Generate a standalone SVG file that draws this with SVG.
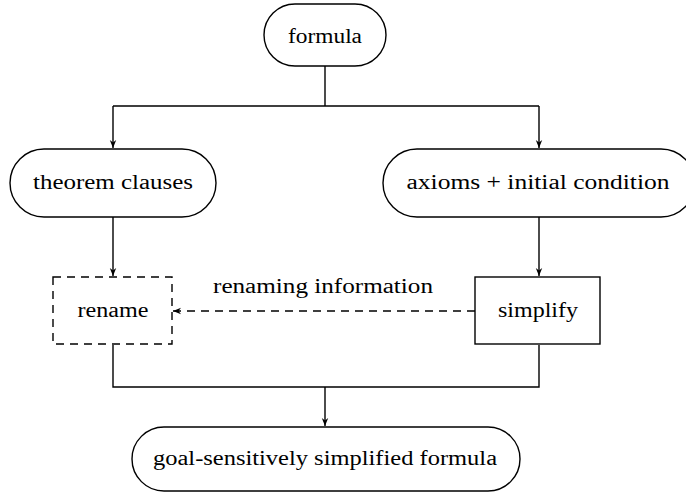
<svg xmlns="http://www.w3.org/2000/svg" width="686" height="496" viewBox="0 0 686 496">
<style>
.n{fill:#fff;stroke:#000;stroke-width:1.4}
.d{stroke-dasharray:8,6}
.t{font-family:"Liberation Serif","DejaVu Serif",serif;font-size:20px;fill:#000;text-anchor:middle}
.c{fill:none;stroke:#000;stroke-width:1.4}
</style>
<defs>
<marker id="a" viewBox="0 0 10 10" refX="10" refY="5" markerWidth="8" markerHeight="8" markerUnits="userSpaceOnUse" orient="auto">
<path d="M0,1 L10,5 L0,9 L3,5 Z" fill="#000"/>
</marker>
</defs>
<g id="connectors">
<path class="c" d="M325,66 V106 M113,106 H539"/>
<path class="c" d="M113,106 V148" marker-end="url(#a)"/>
<path class="c" d="M539,106 V148" marker-end="url(#a)"/>
<path class="c" d="M113,217 V276" marker-end="url(#a)"/>
<path class="c" d="M539,217 V276" marker-end="url(#a)"/>
<path class="c d" d="M475,311 H173" marker-end="url(#a)"/>
<path class="c" d="M113,345 V387 H539 V345"/>
<path class="c" d="M325,387 V426" marker-end="url(#a)"/>
<text class="t" x="323" y="293" textLength="220" lengthAdjust="spacingAndGlyphs">renaming information</text>
</g>
<g id="formula">
<rect class="n" x="264" y="4" width="122" height="62" rx="31"/>
<text class="t" x="325" y="43" textLength="74" lengthAdjust="spacingAndGlyphs">formula</text>
</g>
<g id="theorem">
<rect class="n" x="10" y="149" width="206" height="68" rx="34"/>
<text class="t" x="113" y="189" textLength="160" lengthAdjust="spacingAndGlyphs">theorem clauses</text>
</g>
<g id="axioms">
<rect class="n" x="383" y="149" width="312" height="68" rx="34"/>
<text class="t" x="538" y="189" textLength="263" lengthAdjust="spacingAndGlyphs">axioms + initial condition</text>
</g>
<g id="rename">
<rect class="n d" x="53" y="277" width="119" height="67"/>
<text class="t" x="113" y="317" textLength="71" lengthAdjust="spacingAndGlyphs">rename</text>
</g>
<g id="simplify">
<rect class="n" x="475" y="277" width="125" height="67"/>
<text class="t" x="538" y="317" textLength="80" lengthAdjust="spacingAndGlyphs">simplify</text>
</g>
<g id="goal">
<rect class="n" x="132" y="427" width="388" height="64" rx="32"/>
<text class="t" x="325" y="465" textLength="344" lengthAdjust="spacingAndGlyphs">goal-sensitively simplified formula</text>
</g>
</svg>
